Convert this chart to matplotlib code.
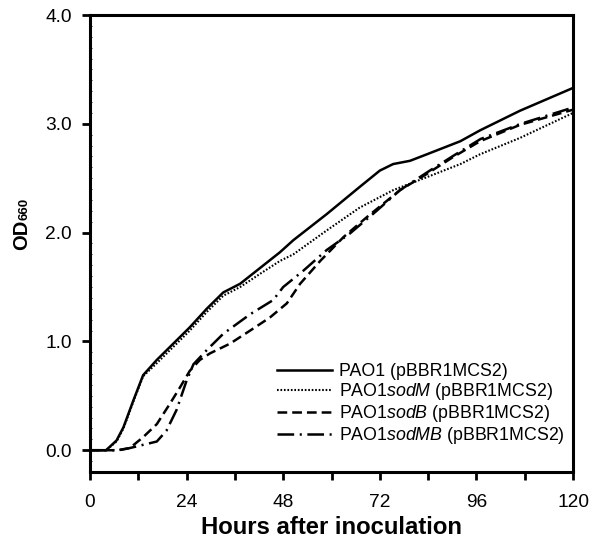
import numpy as np
import matplotlib
matplotlib.use('Agg')
import matplotlib.pyplot as plt

# growth curves (hours, OD660)
t_pao1 = [0, 4, 6.6, 8.3, 10.8, 13.2, 16.6, 20.7, 24.8, 29, 33.1, 37.3, 41.4, 47.2,
          50.5, 58.8, 67, 72, 75.3, 79.5, 83.7, 92, 96.9, 106.8, 120]
od_pao1 = [0, 0, 0.09, 0.21, 0.46, 0.69, 0.83, 0.98, 1.13, 1.30, 1.45, 1.53, 1.65, 1.82,
           1.93, 2.17, 2.42, 2.57, 2.63, 2.66, 2.72, 2.84, 2.94, 3.12, 3.33]

t_sodM = [0, 4, 6.6, 8.3, 10.8, 13.2, 16.6, 20.7, 24.8, 29, 33.1, 37.3, 42.2, 47.2,
          50.5, 58.8, 67, 75.3, 83.7, 92, 96.9, 106.8, 120]
od_sodM = [0, 0, 0.08, 0.20, 0.45, 0.68, 0.80, 0.95, 1.10, 1.27, 1.42, 1.50, 1.62, 1.74,
           1.80, 2.02, 2.23, 2.39, 2.51, 2.63, 2.72, 2.87, 3.10]

t_sodB = [0, 7, 9.9, 13.2, 16.6, 19.9, 22.4, 24.8, 27.3, 29.8, 34.8, 39.8, 44.7, 48.9,
          52.2, 57.2, 63, 68.7, 77, 83.7, 90, 96.9, 106.8, 120]
od_sodB = [0, 0, 0.02, 0.12, 0.24, 0.43, 0.58, 0.73, 0.83, 0.89, 0.98, 1.10, 1.22, 1.35,
           1.53, 1.74, 1.96, 2.14, 2.39, 2.54, 2.69, 2.84, 2.99, 3.13]

t_sodMB = [0, 7, 9.9, 16.6, 19, 21.5, 24, 25.7, 29, 33.1, 39.8, 45.5, 48, 53,
           58.8, 64.5, 71.2, 77, 84, 90, 97, 107, 120]
od_sodMB = [0, 0, 0.02, 0.08, 0.18, 0.37, 0.64, 0.79, 0.92, 1.07, 1.25, 1.38, 1.50, 1.65,
            1.84, 1.99, 2.20, 2.39, 2.56, 2.70, 2.86, 3.00, 3.15]

labels = ['PAO1 (pBBR1MCS2)',
          'PAO1$\\it{sodM}$ (pBBR1MCS2)',
          'PAO1$\\it{sodB}$ (pBBR1MCS2)',
          'PAO1$\\it{sodMB}$ (pBBR1MCS2)']

x_ticks = list(range(0, 121, 12))
x_ticklabels = ['0', '', '24', '', '48', '', '72', '', '96', '', '120']
y_ticks = [0.0, 1.0, 2.0, 3.0, 4.0]
y_ticklabels = ['0.0', '1.0', '2.0', '3.0', '4.0']

plt.rcParams['font.family'] = ['Liberation Sans', 'DejaVu Sans']
plt.rcParams['mathtext.fontset'] = 'custom'
plt.rcParams['mathtext.rm'] = 'Liberation Sans'
plt.rcParams['mathtext.it'] = 'Liberation Sans:italic'
plt.rcParams['mathtext.bf'] = 'Liberation Sans:bold'
plt.rcParams['lines.scale_dashes'] = False

fig = plt.figure(figsize=(5.92, 5.38), dpi=100)
ax = fig.add_axes([0.152, 0.1227, 0.816, 0.8494])

ax.plot(t_pao1, od_pao1, color='black', lw=1.8, ls='-', label=labels[0])
ax.plot(t_sodM, od_sodM, color='black', lw=1.5, dashes=(1.2, 1.3), label=labels[1])
ax.plot(t_sodB, od_sodB, color='black', lw=1.8, dashes=(7, 3.6), label=labels[2])
ax.plot(t_sodMB, od_sodMB, color='black', lw=1.8, dashes=(12, 4, 1.5, 4), label=labels[3])

ax.set_xlim(0, 120)
ax.set_ylim(-0.2, 4.0)
ax.set_xticks(x_ticks)
ax.set_xticklabels(x_ticklabels)
ax.set_yticks(y_ticks)
ax.set_yticklabels(y_ticklabels)
ax.set_yticks(np.arange(-0.2, 4.01, 0.1), minor=True)
ax.tick_params(axis='both', which='major', direction='out', length=5.5, width=2,
               labelsize=13.8, pad=7.5)
ax.tick_params(axis='x', which='major', pad=10.5)
ax.tick_params(axis='y', which='minor', direction='in', length=1.5, width=0.6)
for s in ax.spines.values():
    s.set_linewidth(2.2)

ax.set_xlabel('Hours after inoculation', fontsize=17.2, fontweight='bold', labelpad=3.5)

# y label: bold "OD" followed by a smaller "660" on the same baseline
od = fig.text(0.037, 0.563, 'OD', fontsize=14.5, fontweight='bold', rotation=90,
              ha='center', va='center')
ax.annotate('660', xy=(1, 1), xycoords=od, xytext=(-3.0, 0), textcoords='offset points',
            fontsize=9.5, fontweight='bold', rotation=90, rotation_mode='anchor',
            ha='left', va='baseline')

ax.legend(loc='upper left', bbox_to_anchor=(0.387, 0.238), frameon=False, fontsize=12.8,
          handlelength=3.1, handletextpad=0.4, labelspacing=0.06, borderpad=0,
          borderaxespad=0)

plt.savefig('out.png', dpi=100)
